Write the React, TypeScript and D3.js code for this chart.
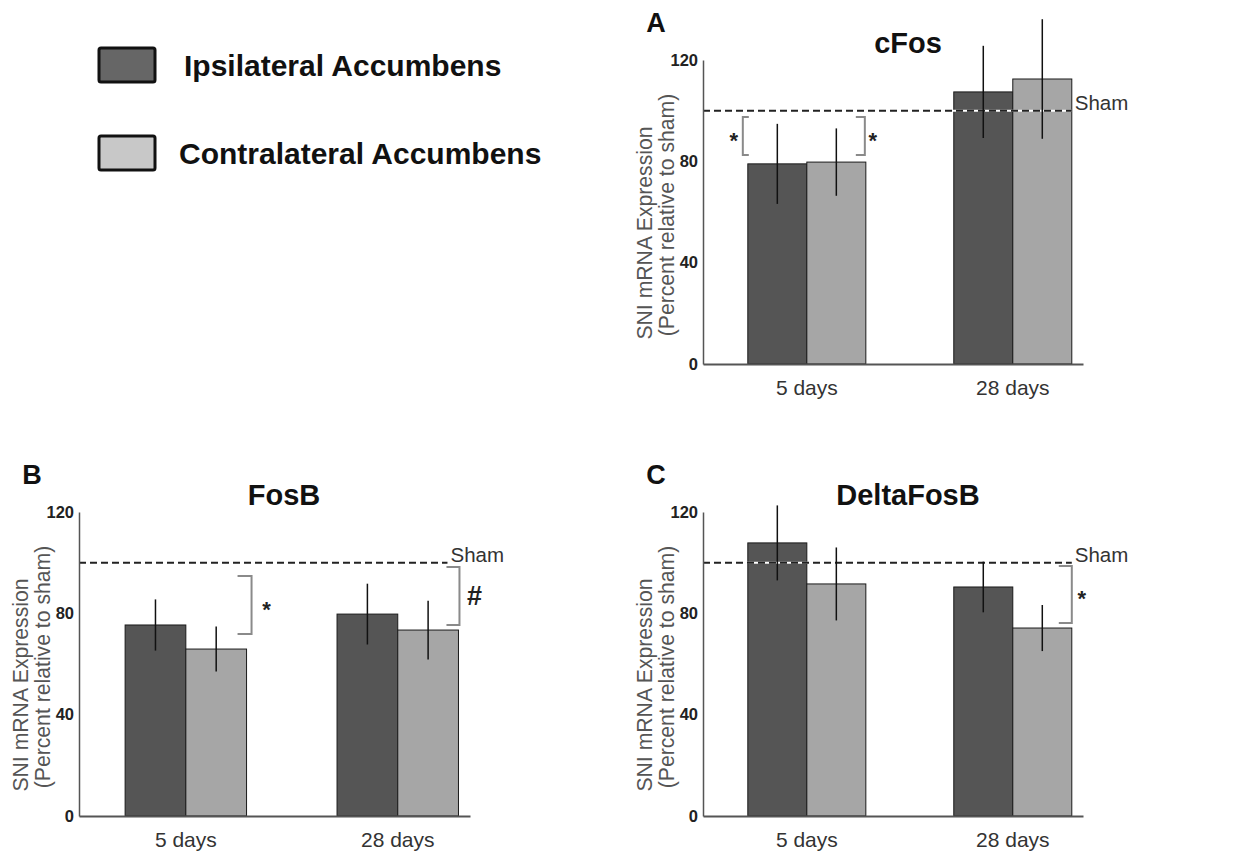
import React, { useEffect, useRef } from "react";
import * as d3 from "d3";

// categories and series
const groups = ["5 days", "28 days"];
const seriesNames = ["Ipsilateral Accumbens", "Contralateral Accumbens"];
const yTicks = [0, 40, 80, 120];
const shamLevel = 100;

// cFos (mean, sem)
const cFosIpsi = [79, 107.4];
const cFosIpsiErr = [15.8, 18.2];
const cFosContra = [79.7, 112.5];
const cFosContraErr = [13.3, 23.6];

// FosB
const fosBIpsi = [75.4, 79.7];
const fosBIpsiErr = [10.1, 12];
const fosBContra = [65.9, 73.4];
const fosBContraErr = [8.9, 11.6];

// DeltaFosB
const deltaIpsi = [107.8, 90.4];
const deltaIpsiErr = [14.8, 10];
const deltaContra = [91.6, 74.2];
const deltaContraErr = [14.4, 9.1];

// significance brackets: [top value, bottom value]
const cFosBracketLeft = [97.5, 82.5];
const cFosBracketRight = [97.5, 82.5];
const fosBBracket5 = [94.7, 71.8];
const fosBBracket28 = [98.3, 75.4];
const deltaBracket28 = [98.7, 76.2];

const font = "'Liberation Sans', Arial, Helvetica, sans-serif";
const colors = ["#555555", "#a6a6a6"];
const plotH = 304;

const panels = [
  {
    letter: "A",
    title: "cFos",
    x: 703,
    top: 60,
    width: 380,
    shamInset: 0,
    values: [cFosIpsi, cFosContra],
    errors: [cFosIpsiErr, cFosContraErr],
    brackets: [
      { group: 0, edge: "left", dx: -5, tick: 6, vals: cFosBracketLeft, label: "*", labelDx: -9 },
      { group: 0, edge: "right", dx: -1, tick: -9, vals: cFosBracketRight, label: "*", labelDx: 8 },
    ],
  },
  {
    letter: "B",
    title: "FosB",
    x: 79,
    top: 512,
    width: 391,
    shamInset: 11,
    values: [fosBIpsi, fosBContra],
    errors: [fosBIpsiErr, fosBContraErr],
    brackets: [
      { group: 0, edge: "right", dx: 5, tick: -14, vals: fosBBracket5, label: "*", labelDx: 15 },
      { group: 1, edge: "right", dx: 1, tick: -13, vals: fosBBracket28, label: "#", labelDx: 15 },
    ],
  },
  {
    letter: "C",
    title: "DeltaFosB",
    x: 703,
    top: 512,
    width: 380,
    shamInset: 0,
    values: [deltaIpsi, deltaContra],
    errors: [deltaIpsiErr, deltaContraErr],
    brackets: [
      { group: 1, edge: "right", dx: 0, tick: -13, vals: deltaBracket28, label: "*", labelDx: 10 },
    ],
  },
];

function drawPanel(svg, p) {
  const g = svg.append("g").attr("transform", `translate(${p.x},${p.top})`);

  const y = d3.scaleLinear().domain([0, 120]).range([plotH, 0]);
  const x0 = d3
    .scaleBand()
    .domain(groups)
    .range([0, p.width])
    .paddingInner(0.427)
    .paddingOuter(0.136)
    .align(0.8);
  const x1 = d3.scaleBand().domain(seriesNames).range([0, x0.bandwidth()]);

  // bars
  const rows = [];
  groups.forEach((grp, gi) => {
    seriesNames.forEach((s, si) => {
      rows.push({ grp, s, si, v: p.values[si][gi], e: p.errors[si][gi] });
    });
  });

  g.selectAll("rect.bar")
    .data(rows)
    .join("rect")
    .attr("class", "bar")
    .attr("x", (d) => x0(d.grp) + x1(d.s))
    .attr("y", (d) => y(d.v))
    .attr("width", x1.bandwidth())
    .attr("height", (d) => y(0) - y(d.v))
    .attr("fill", (d) => colors[d.si])
    .attr("stroke", "#1a1a1a")
    .attr("stroke-width", 1);

  // sham line (white underlay shows as white dashes over the bars)
  const shamEnd = x0(groups[1]) + x0.bandwidth() - p.shamInset;
  g.append("line")
    .attr("x1", 0)
    .attr("x2", shamEnd)
    .attr("y1", y(shamLevel))
    .attr("y2", y(shamLevel))
    .attr("stroke", "#fff")
    .attr("stroke-width", 2);
  g.append("line")
    .attr("x1", 0)
    .attr("x2", shamEnd)
    .attr("y1", y(shamLevel))
    .attr("y2", y(shamLevel))
    .attr("stroke", "#222")
    .attr("stroke-width", 2)
    .attr("stroke-dasharray", "7,4");
  g.append("text")
    .attr("x", shamEnd + 3)
    .attr("y", y(shamLevel) - 1)
    .attr("font-family", font)
    .attr("font-size", 20.5)
    .attr("fill", "#333")
    .text("Sham");

  // error bars
  g.selectAll("line.err")
    .data(rows)
    .join("line")
    .attr("class", "err")
    .attr("x1", (d) => x0(d.grp) + x1(d.s) + x1.bandwidth() / 2)
    .attr("x2", (d) => x0(d.grp) + x1(d.s) + x1.bandwidth() / 2)
    .attr("y1", (d) => y(d.v + d.e))
    .attr("y2", (d) => y(d.v - d.e))
    .attr("stroke", "#111")
    .attr("stroke-width", 1.5);

  // brackets
  p.brackets.forEach((b) => {
    const gx = x0(groups[b.group]);
    const bx = (b.edge === "left" ? gx : gx + x0.bandwidth()) + b.dx;
    const y1 = y(b.vals[0]);
    const y2 = y(b.vals[1]);
    g.append("path")
      .attr("d", `M${bx + b.tick},${y1}H${bx}V${y2}H${bx + b.tick}`)
      .attr("fill", "none")
      .attr("stroke", "#8a8a8a")
      .attr("stroke-width", 2);
    const mid = (y1 + y2) / 2;
    const isHash = b.label === "#";
    g.append("text")
      .attr("x", bx + b.labelDx)
      .attr("y", mid + (isHash ? 9 : 12))
      .attr("text-anchor", "middle")
      .attr("font-family", font)
      .attr("font-weight", "bold")
      .attr("font-size", isHash ? 27 : 22)
      .attr("fill", "#222")
      .text(b.label);
  });

  // axes
  const yAxis = g
    .append("g")
    .call(d3.axisLeft(y).tickValues(yTicks).tickSize(0).tickSizeOuter(0).tickPadding(5));
  yAxis.select(".domain").attr("stroke", "#555").attr("stroke-width", 1.5);
  yAxis
    .selectAll("text")
    .attr("font-family", font)
    .attr("font-weight", "bold")
    .attr("font-size", 16.5)
    .attr("fill", "#222");

  const xAxis = g
    .append("g")
    .attr("transform", `translate(0,${plotH})`)
    .call(d3.axisBottom(x0).tickSize(0).tickSizeOuter(0).tickPadding(16));
  xAxis.select(".domain").attr("stroke", "#555").attr("stroke-width", 2);
  xAxis
    .selectAll("text")
    .attr("font-family", font)
    .attr("font-size", 21)
    .attr("fill", "#333");

  // y title, two lines
  const yLines = [
    { text: "SNI mRNA Expression", dx: -58, mid: 173 },
    { text: "(Percent relative to sham)", dx: -36, mid: 155 },
  ];
  yLines.forEach((l) => {
    g.append("text")
      .attr("transform", `translate(${l.dx + 7},${l.mid}) rotate(-90)`)
      .attr("text-anchor", "middle")
      .attr("font-family", font)
      .attr("font-size", 21.2)
      .attr("fill", "#555")
      .text(l.text);
  });

  // title and letter
  g.append("text")
    .attr("x", 205)
    .attr("y", -7)
    .attr("text-anchor", "middle")
    .attr("font-family", font)
    .attr("font-weight", "bold")
    .attr("font-size", 29)
    .attr("fill", "#111")
    .text(p.title);
  g.append("text")
    .attr("x", -47)
    .attr("y", -28)
    .attr("text-anchor", "middle")
    .attr("font-family", font)
    .attr("font-weight", "bold")
    .attr("font-size", 27)
    .attr("fill", "#111")
    .text(p.letter);
}

function drawLegend(svg) {
  const legendFill = ["#666666", "#c8c8c8"];
  const lg = svg.append("g");
  const rowY = d3.scalePoint().domain(seriesNames).range([48, 136]);
  seriesNames.forEach((s, i) => {
    lg.append("rect")
      .attr("x", 99)
      .attr("y", rowY(s))
      .attr("width", 56)
      .attr("height", 34)
      .attr("rx", 2)
      .attr("fill", legendFill[i])
      .attr("stroke", "#111")
      .attr("stroke-width", 3);
    lg.append("text")
      .attr("x", i === 0 ? 184 : 179)
      .attr("y", rowY(s) + 28)
      .attr("font-family", font)
      .attr("font-weight", "bold")
      .attr("font-size", 30)
      .attr("fill", "#111")
      .text(s);
  });
}

export default function App() {
  const ref = useRef(null);

  useEffect(() => {
    const svg = d3.select(ref.current);
    svg.selectAll("*").remove();
    drawLegend(svg);
    panels.forEach((p) => drawPanel(svg, p));
    return () => {
      svg.selectAll("*").remove();
    };
  }, []);

  return (
    <svg
      ref={ref}
      width={1260}
      height={852}
      style={{ position: "absolute", left: 0, top: 0, background: "#fff" }}
    />
  );
}
